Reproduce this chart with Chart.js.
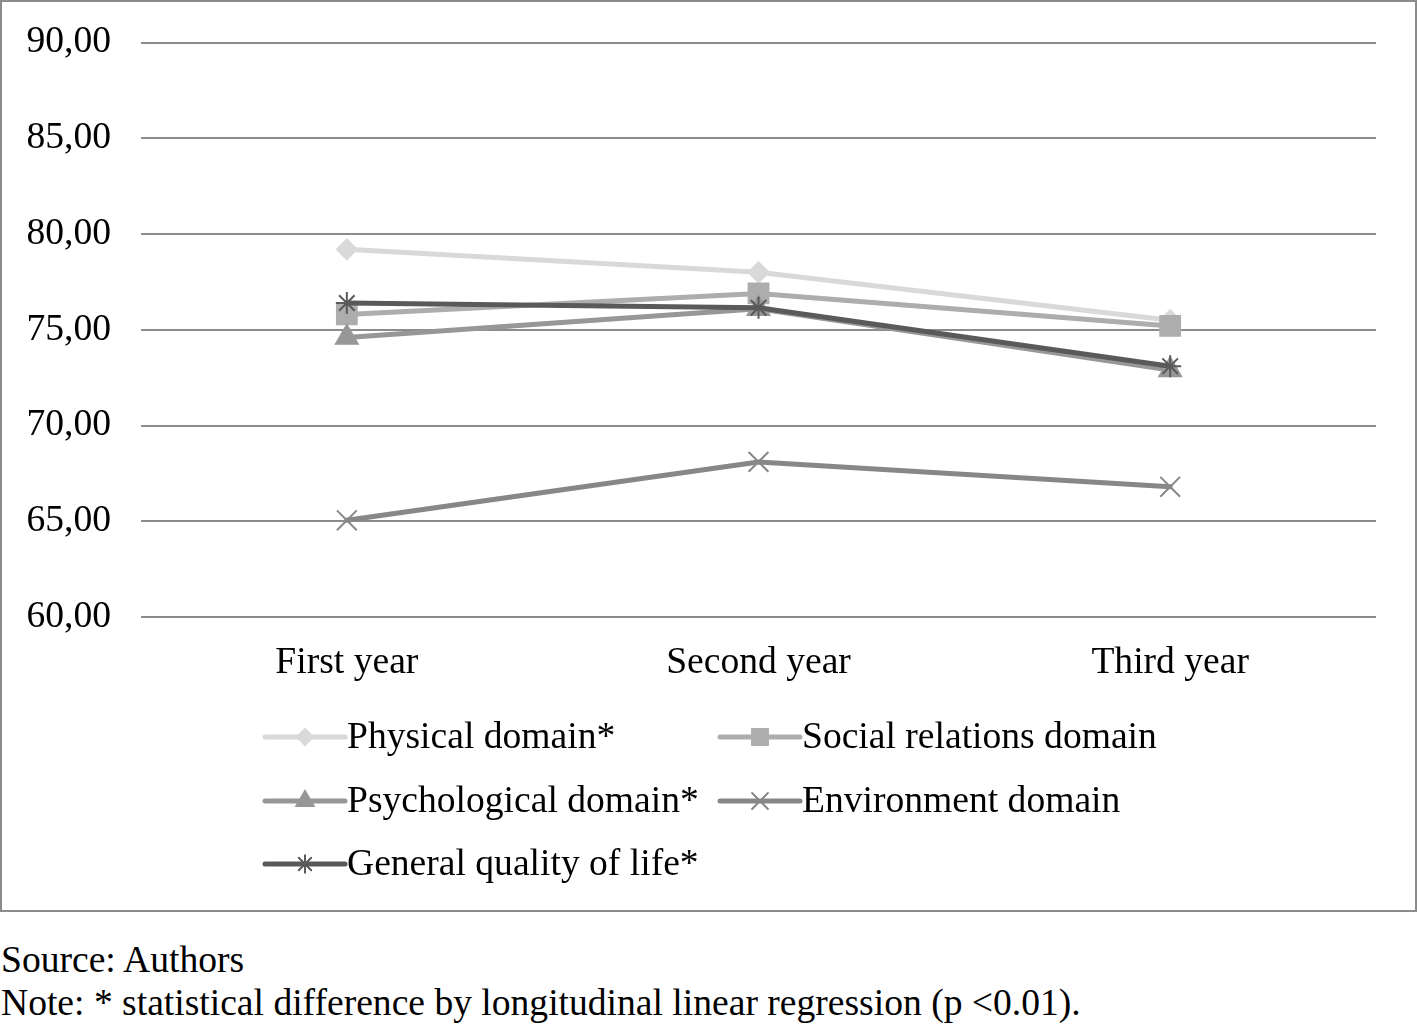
<!DOCTYPE html>
<html>
<head>
<meta charset="utf-8">
<script src="https://cdn.jsdelivr.net/npm/chart.js@4.4.1/dist/chart.umd.min.js"></script>
<style>
  html, body { margin: 0; padding: 0; background: #fff; }
  #box { position: absolute; left: 0; top: 0; width: 1413px; height: 908px; border: 2px solid #8c8c8c; }
  #box canvas { display: block; position: absolute; left: 0; top: -12px; }
  .foot { position: absolute; left: 1px; font: 37.6px "Liberation Serif", "Times New Roman", serif; color: #000; line-height: 43px; white-space: nowrap; }
</style>
</head>
<body>
<div id="box"><canvas id="qolChart" width="1413" height="920"></canvas></div>
<div class="foot" style="top:938px">Source: Authors</div>
<div class="foot" style="top:981px">Note: * statistical difference by longitudinal linear regression (p &lt;0.01).</div>
<script>
// Gegevens
var years = ["First year", "Second year", "Third year"];
var seriesNames = ["Physical domain*", "Social relations domain", "Psychological domain*", "Environment domain", "General quality of life*"];
var physical = [79.2, 78.0, 75.5];
var social = [75.8, 76.9, 75.2];
var psychological = [74.6, 76.1, 72.9];
var environment = [65.05, 68.1, 66.8];
var general = [76.4, 76.15, 73.1];
var yTicks = [60, 65, 70, 75, 80, 85, 90];

var FONT = "Liberation Serif, Times New Roman, serif";
var FSIZE = 37.6;

function line(label, data, color, style, radius, order) {
  return {
    label: label, data: data,
    borderColor: color, backgroundColor: color,
    pointBackgroundColor: color, pointBorderColor: color,
    borderWidth: 5, borderCapStyle: "round", borderJoinStyle: "round",
    pointStyle: style, pointRadius: radius, pointBorderWidth: 2,
    pointHoverRadius: radius, tension: 0, order: order,
  };
}

var datasets = [
  line(seriesNames[0], physical, "#d9d9d9", "rectRot", 10, 5),
  line(seriesNames[1], social, "#adadad", "rect", 14, 4),
  line(seriesNames[2], psychological, "#979797", "triangle", 12.5, 3),
  line(seriesNames[3], environment, "#878787", "crossRot", 14, 2),
  line(seriesNames[4], general, "#5a5a5a", "star", 11, 1),
];

// Legenda in twee kolommen, zoals in het origineel.
var gridLegend = {
  id: "gridLegend",
  afterDraw: function (chart) {
    var ctx = chart.ctx;
    var cols = [263, 718], rows = [747, 811, 874];
    chart.data.datasets.forEach(function (ds, i) {
      var x = cols[i % 2], y = rows[Math.floor(i / 2)];
      ctx.save();
      ctx.strokeStyle = ds.borderColor;
      ctx.fillStyle = ds.borderColor;
      ctx.lineWidth = 5;
      ctx.lineCap = "round";
      ctx.beginPath(); ctx.moveTo(x, y); ctx.lineTo(x + 80, y); ctx.stroke();
      ctx.lineWidth = 2;
      Chart.helpers.drawPoint(ctx, { pointStyle: ds.pointStyle, radius: ds.pointRadius * 0.8, borderWidth: 2, rotation: 0 }, x + 40, y);
      ctx.fillStyle = "#000";
      ctx.font = FSIZE + "px " + FONT;
      ctx.textBaseline = "middle";
      ctx.textAlign = "left";
      ctx.fillText(ds.label, x + 82, y + 1);
      ctx.restore();
    });
  },
};

new Chart(document.getElementById("qolChart"), {
  type: "line",
  data: { labels: years, datasets: datasets },
  plugins: [gridLegend],
  options: {
    responsive: false, animation: false,
    layout: { padding: { top: 28, right: 39, left: 0, bottom: 0 } },
    plugins: { legend: { display: false }, tooltip: { enabled: false } },
    scales: {
      x: {
        offset: true,
        grid: { display: false, drawTicks: false },
        border: { display: false },
        ticks: { color: "#000", padding: 24, font: { family: FONT, size: FSIZE } },
        afterFit: function (s) { s.height = 293; },
      },
      y: {
        min: yTicks[0], max: yTicks[yTicks.length - 1],
        afterBuildTicks: function (s) { s.ticks = yTicks.map(function (v) { return { value: v }; }); },
        grid: { color: "#8c8c8c", lineWidth: 2, drawTicks: false },
        border: { display: false },
        ticks: {
          color: "#000", padding: 30, font: { family: FONT, size: FSIZE },
          callback: function (v) { return v.toFixed(2).replace(".", ","); },
        },
        afterFit: function (s) { s.width = 139; },
      },
    },
  },
});
</script>
</body>
</html>
